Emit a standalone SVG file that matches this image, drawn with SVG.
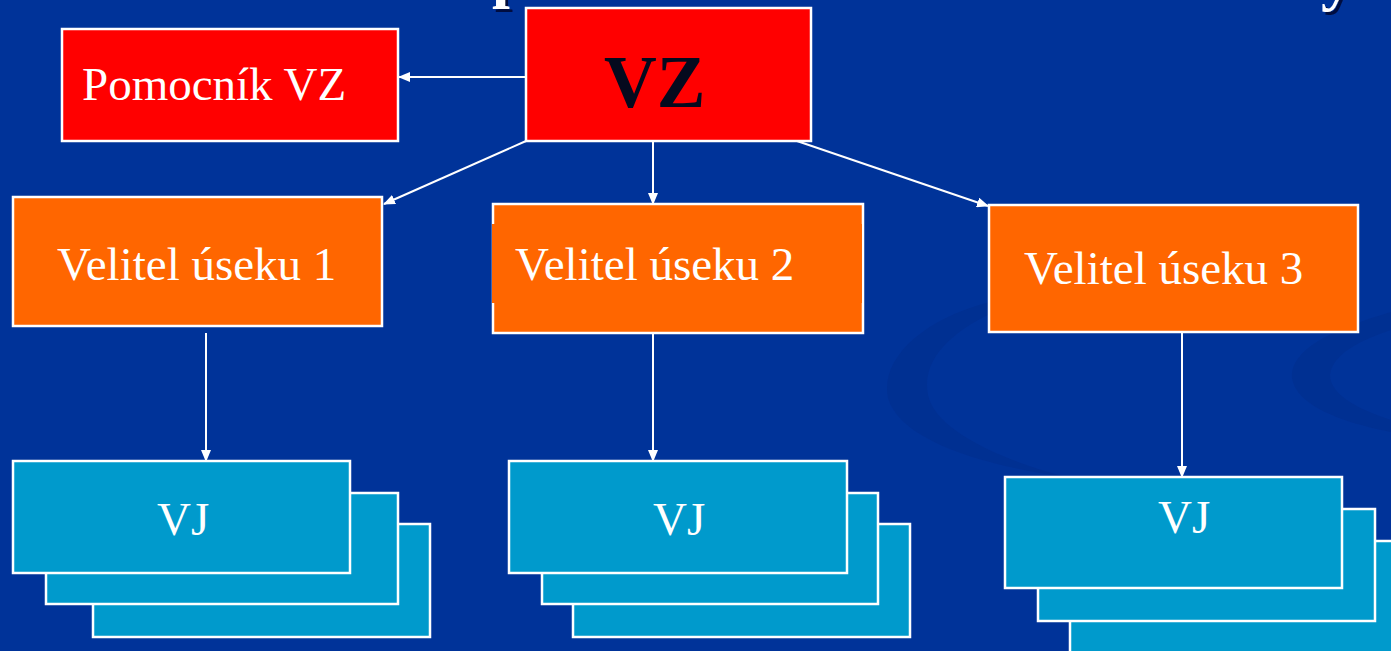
<svg xmlns="http://www.w3.org/2000/svg" width="1391" height="651" viewBox="0 0 1391 651">
  <style>
    .box { stroke: #ffffff; stroke-width: 2.5; }
    .red { fill: #ff0000; }
    .orange { fill: #ff6600; }
    .cyan { fill: #009acc; }
    .lbl { font-family: "Liberation Serif", "Times New Roman", serif; fill: #ffffff; font-size: 47px; }
    .conn { stroke: #ffffff; stroke-width: 2; fill: none; marker-end: url(#arrow); }
    .title { font-family: "Liberation Serif", "Times New Roman", serif; font-weight: bold; font-size: 64px; fill: #ffffff; filter: url(#shadow); }
  </style>
  <defs>
    <marker id="arrow" markerUnits="userSpaceOnUse" markerWidth="12" markerHeight="10" refX="11" refY="5" orient="auto">
      <path d="M0,0 L12,5 L0,10 Z" fill="#ffffff"/>
    </marker>
    <filter id="shadow" x="-50%" y="-50%" width="200%" height="200%">
      <feDropShadow dx="3" dy="3" stdDeviation="0.5" flood-color="#001040" flood-opacity="1"/>
    </filter>
  </defs>

  <rect x="0" y="0" width="1391" height="651" fill="#003399"/>
  <!-- background swirl -->
  <g id="swirl" fill="#002e8c" opacity="0.55">
    <path d="M990,302 C920,320 880,360 888,398 C900,440 980,465 1070,478 C1000,460 935,430 928,395 C920,355 960,325 1010,305 Z"/>
    <path d="M1391,312 C1330,330 1290,350 1292,378 C1296,405 1340,422 1391,432 L1391,420 C1360,410 1330,395 1330,375 C1332,355 1360,340 1391,330 Z"/>
  </g>

  <!-- cropped title fragments -->
  <g id="title">
    <text class="title" x="492" y="-5">p</text>
    <text class="title" x="1321" y="-2">y</text>
  </g>

  <g id="connectors">
    <line class="conn" x1="526" y1="77" x2="399" y2="77"/>
    <line class="conn" x1="526" y1="141" x2="384" y2="204"/>
    <line class="conn" x1="653" y1="141" x2="653" y2="204"/>
    <line class="conn" x1="797" y1="141" x2="988" y2="206"/>
    <line class="conn" x1="206" y1="333" x2="206" y2="461"/>
    <line class="conn" x1="653" y1="333" x2="653" y2="461"/>
    <line class="conn" x1="1182" y1="333" x2="1182" y2="477"/>
  </g>

  <g id="pomocnik">
    <rect class="box red" x="62" y="29" width="336" height="112"/>
    <text class="lbl" x="82" y="100" font-size="50">Pomocník VZ</text>
  </g>

  <g id="vz">
    <rect class="box red" x="526" y="8" width="285" height="133"/>
    <text x="604" y="107" font-family="Liberation Serif, Times New Roman, serif" font-weight="bold" font-size="73" fill="#050a1e">VZ</text>
  </g>

  <g id="velitel1">
    <rect class="box orange" x="13" y="197" width="369" height="129"/>
    <text class="lbl" x="57" y="280">Velitel úseku 1</text>
  </g>

  <g id="velitel2">
    <rect class="box orange" x="493" y="204" width="370" height="129"/>
    <rect class="orange" x="492" y="224" width="370" height="79"/>
    <text class="lbl" x="515" y="280" font-size="47.5">Velitel úseku 2</text>
  </g>

  <g id="velitel3">
    <rect class="box orange" x="989" y="205" width="369" height="127"/>
    <text class="lbl" x="1024" y="284">Velitel úseku 3</text>
  </g>

  <g id="vj1">
    <rect class="box cyan" x="93" y="524" width="337" height="113"/>
    <rect class="box cyan" x="46" y="493" width="352" height="111"/>
    <rect class="box cyan" x="13" y="461" width="337" height="112"/>
    <text class="lbl" x="157" y="535">VJ</text>
  </g>

  <g id="vj2">
    <rect class="box cyan" x="573" y="524" width="337" height="113"/>
    <rect class="box cyan" x="542" y="493" width="336" height="111"/>
    <rect class="box cyan" x="509" y="461" width="338" height="112"/>
    <text class="lbl" x="653" y="535">VJ</text>
  </g>

  <g id="vj3">
    <rect class="box cyan" x="1070" y="541" width="340" height="120"/>
    <rect class="box cyan" x="1038" y="509" width="337" height="112"/>
    <rect class="box cyan" x="1005" y="477" width="337" height="111"/>
    <text class="lbl" x="1158" y="533">VJ</text>
  </g>
</svg>
